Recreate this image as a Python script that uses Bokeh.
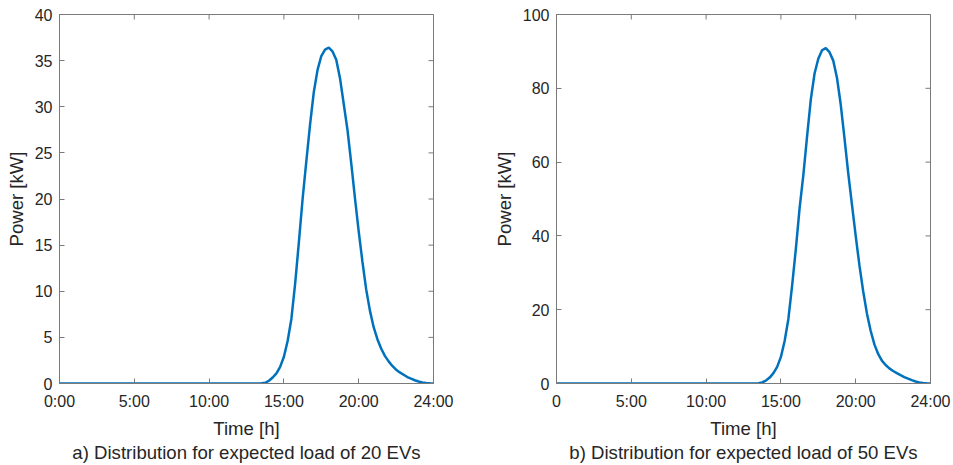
import math
from bokeh.plotting import figure
from bokeh.layouts import row
from bokeh.models import Range1d, FixedTicker, LinearAxis
from bokeh.embed import file_html
from bokeh.resources import INLINE

# time axis positions (tick units; the last tick is labelled 24:00)
time_pos = [0, 1, 2, 3, 4, 5, 6, 7, 8, 9, 10, 11, 12, 12.5,
            13.0, 13.25, 13.5, 13.75, 14.0, 14.25, 14.5, 14.75,
            15.0, 15.25, 15.5, 15.75, 16.0, 16.25, 16.5, 16.75,
            17.0, 17.25, 17.5, 17.75, 18.0, 18.25, 18.5, 18.75,
            19.0, 19.25, 19.5, 19.75, 20.0, 20.25, 20.5, 20.75,
            21.0, 21.25, 21.5, 21.75, 22.0, 22.25, 22.5, 22.75,
            23.0, 23.25, 23.5, 23.75, 24.0, 24.25, 24.5, 24.75, 25.0]

power_20 = [0, 0, 0, 0, 0, 0, 0, 0, 0, 0, 0, 0, 0, 0,
            0.0, 0.01, 0.03, 0.07, 0.3, 0.65, 1.1, 1.8,
            2.9, 4.6, 7.0, 10.8, 15.3, 20.0, 24.1, 28.1,
            31.6, 34.0, 35.5, 36.2, 36.4, 36.0, 35.1, 33.1,
            30.3, 27.5, 23.9, 20.1, 16.5, 13.2, 10.2, 7.9,
            6.1, 4.8, 3.8, 3.0, 2.4, 1.9, 1.5, 1.2,
            0.95, 0.7, 0.52, 0.35, 0.22, 0.12, 0.06, 0.02, 0.0]

power_50 = [0, 0, 0, 0, 0, 0, 0, 0, 0, 0, 0, 0, 0, 0,
            0.0, 0.03, 0.1, 0.3, 0.8, 1.6, 2.8, 4.5,
            7.2, 11.5, 17.5, 26.5, 36.5, 47.5, 56.5, 67.0,
            77.0, 84.0, 88.0, 90.3, 90.9, 89.8, 87.5, 82.8,
            75.6, 66.5, 57.0, 48.5, 40.0, 32.0, 25.0, 19.0,
            14.3, 10.6, 8.0, 6.2, 5.0, 4.1, 3.4, 2.8,
            2.25, 1.75, 1.3, 0.9, 0.55, 0.3, 0.12, 0.04, 0.0]

x_ticks = [0, 5, 10, 15, 20, 25]
x_labels_a = ["0:00", "5:00", "10:00", "15:00", "20:00", "24:00"]
x_labels_b = ["0", "5:00", "10:00", "15:00", "20:00", "24:00"]
y_ticks_a = [0, 5, 10, 15, 20, 25, 30, 35, 40]
y_ticks_b = [0, 20, 40, 60, 80, 100]

caption_a = "a) Distribution for expected load of 20 EVs"
caption_b = "b) Distribution for expected load of 50 EVs"

FONT = "Liberation Sans"
TXT = "#262626"
AX = "#7a7a7a"
LINE = "#0072BD"
LABEL_SIZE = "18.6px"


def style_axis(ax, ticks):
    ax.ticker = FixedTicker(ticks=ticks)
    ax.minor_tick_line_color = None
    ax.major_tick_in = 5
    ax.major_tick_out = 0
    ax.major_tick_line_color = AX
    ax.axis_line_color = AX
    ax.axis_line_width = 1
    ax.major_label_text_font = FONT
    ax.major_label_text_font_size = "16px"
    ax.major_label_text_color = TXT
    ax.axis_label_text_font = FONT
    ax.axis_label_text_font_size = LABEL_SIZE
    ax.axis_label_text_font_style = "normal"
    ax.axis_label_text_color = TXT


def panel(y, ymax, yticks, xlabels, caption, bl, br):
    p = figure(frame_width=374, frame_height=369,
               x_range=Range1d(0, 25), y_range=Range1d(0, ymax),
               output_backend="svg", toolbar_location=None,
               min_border_left=bl, min_border_right=br,
               min_border_top=14, min_border_bottom=82)
    p.grid.visible = False
    p.outline_line_color = AX
    p.background_fill_color = "white"
    p.border_fill_color = "white"
    p.line(time_pos, y, line_color=LINE, line_width=2.5)

    # inward ticks on the top and right edges of the box (clipped to frame)
    p.scatter(x_ticks, [ymax] * len(x_ticks), marker="dash", size=10,
              angle=math.pi / 2, line_color=AX, line_width=1)
    p.scatter([25] * len(yticks), yticks, marker="dash", size=10,
              line_color=AX, line_width=1)

    xa = p.xaxis[0]
    style_axis(xa, x_ticks)
    xa.major_label_overrides = {t: lab for t, lab in zip(x_ticks, xlabels)}
    xa.axis_label = "Time [h]"
    xa.major_label_standoff = 9
    xa.axis_label_standoff = 5

    ya = p.yaxis[0]
    style_axis(ya, yticks)
    ya.axis_label = "Power [kW]"
    ya.major_label_standoff = 7
    ya.axis_label_standoff = 5

    # caption line below the x-axis label
    cap = LinearAxis(ticker=FixedTicker(ticks=[]), axis_label=caption)
    cap.axis_line_color = None
    cap.major_tick_line_color = None
    cap.minor_tick_line_color = None
    cap.major_tick_in = 0
    cap.major_tick_out = 0
    cap.major_label_standoff = 0
    cap.axis_label_standoff = 0
    cap.axis_label_text_font = FONT
    cap.axis_label_text_font_size = LABEL_SIZE
    cap.axis_label_text_font_style = "normal"
    cap.axis_label_text_color = TXT
    p.add_layout(cap, "below")
    return p


pa = panel(power_20, 40, y_ticks_a, x_labels_a, caption_a, 59, 43)
pb = panel(power_50, 100, y_ticks_b, x_labels_b, caption_b, 80, 23)

layout = row(pa, pb)
open("out.html", "w").write(file_html(layout, INLINE))
